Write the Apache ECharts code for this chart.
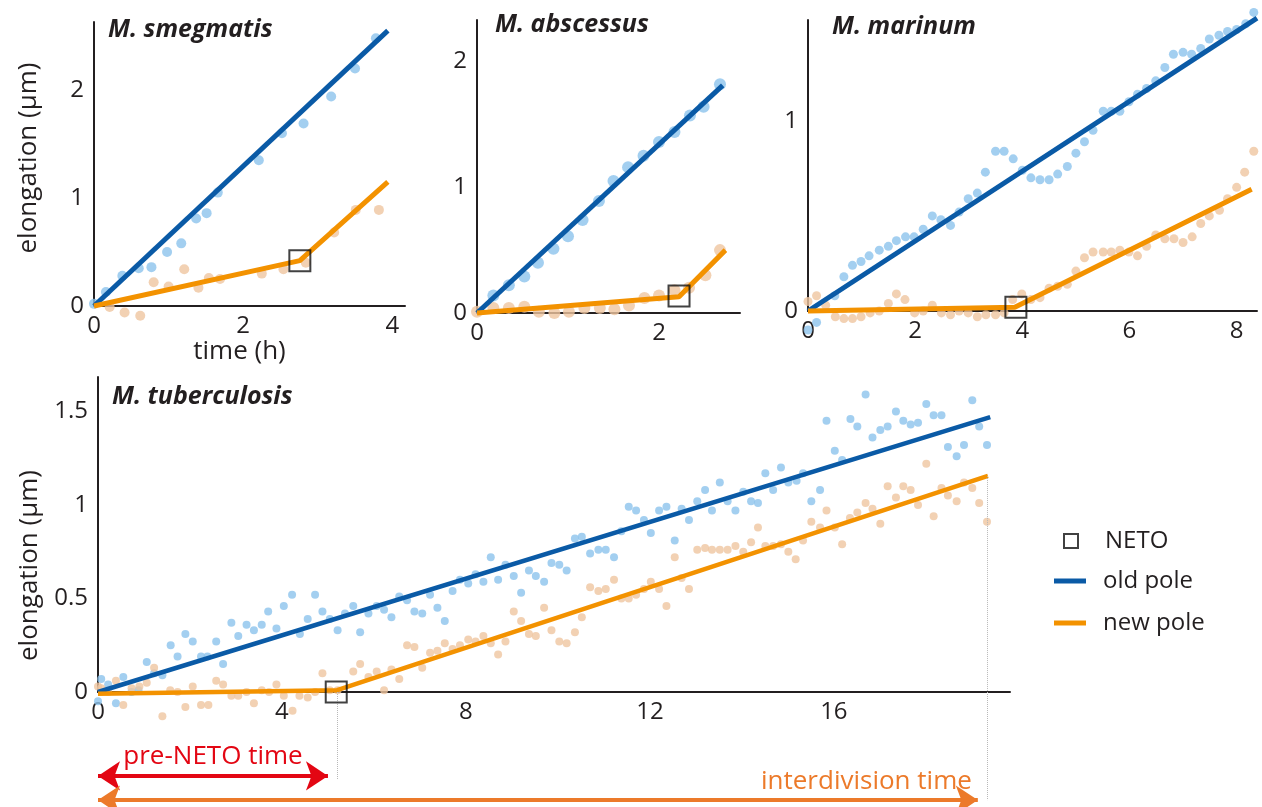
<!DOCTYPE html>
<html>
<head>
<meta charset="utf-8">
<title>NETO elongation</title>
<script src="https://cdn.jsdelivr.net/npm/echarts@6/dist/echarts.min.js"></script>
<style>
  html, body { margin: 0; padding: 0; background: #fff; }
  #chart { width: 1262px; height: 807px; }
</style>
</head>
<body>
<div id="chart"></div>
<script>
// ---- data: [time (h), elongation (um)] ----

// M. smegmatis
const smegOld = [[0, 0.02], [0.16, 0.13], [0.38, 0.28], [0.6, 0.35], [0.77, 0.36], [0.98, 0.5], [1.17, 0.58], [1.37, 0.81], [1.51, 0.86], [1.66, 1.05], [2.21, 1.35], [2.52, 1.6], [2.81, 1.69], [3.18, 1.94], [3.5, 2.2], [3.78, 2.48]]
const smegNew = [[0.21, -0.01], [0.41, -0.06], [0.62, -0.09], [0.8, 0.22], [1.0, 0.18], [1.21, 0.34], [1.4, 0.17], [1.54, 0.26], [1.69, 0.25], [2.25, 0.3], [2.54, 0.34], [2.84, 0.4], [3.22, 0.68], [3.51, 0.89], [3.82, 0.89]]
const smegOldFit = [[0, 0], [3.94, 2.55]]
const smegNewFit = [[0, 0], [2.76, 0.42], [3.94, 1.15]]
const smegNeto = [[2.76, 0.42]]

// M. abscessus
const absOld = [[0.18, 0.14], [0.35, 0.22], [0.52, 0.29], [0.67, 0.4], [0.84, 0.51], [1.0, 0.61], [1.16, 0.74], [1.34, 0.89], [1.5, 1.05], [1.66, 1.16], [1.83, 1.25], [2.0, 1.36], [2.17, 1.44], [2.34, 1.57], [2.49, 1.64], [2.67, 1.82]]
const absNew = [[0, 0.01], [0.18, 0.04], [0.35, 0.04], [0.52, 0.05], [0.68, 0.01], [0.85, 0], [1.01, 0.01], [1.18, 0.04], [1.35, 0.04], [1.51, 0.03], [1.67, 0.06], [1.84, 0.12], [2.0, 0.14], [2.17, 0.18], [2.33, 0.2], [2.51, 0.3], [2.67, 0.5]]
const absOldFit = [[0, 0], [2.7, 1.81]]
const absNewFit = [[0, 0], [2.22, 0.13], [2.73, 0.5]]
const absNeto = [[2.22, 0.135]]

// M. marinum
const marOld = [[0, -0.1], [0.16, -0.06], [0.5, 0.08], [0.67, 0.18], [0.83, 0.24], [0.99, 0.26], [1.14, 0.29], [1.33, 0.32], [1.5, 0.34], [1.65, 0.37], [1.82, 0.39], [1.98, 0.39], [2.15, 0.43], [2.32, 0.5], [2.48, 0.48], [2.66, 0.45], [2.82, 0.52], [2.99, 0.59], [3.16, 0.62], [3.31, 0.73], [3.5, 0.84], [3.66, 0.84], [3.83, 0.8], [4.0, 0.74], [4.16, 0.7], [4.33, 0.69], [4.5, 0.69], [4.66, 0.72], [4.84, 0.76], [5.0, 0.83], [5.16, 0.89], [5.32, 0.95], [5.51, 1.05], [5.66, 1.05], [5.82, 1.05], [5.99, 1.1], [6.15, 1.14], [6.32, 1.17], [6.49, 1.21], [6.66, 1.28], [6.82, 1.35], [7.0, 1.36], [7.16, 1.35], [7.33, 1.38], [7.49, 1.43], [7.67, 1.45], [7.83, 1.47], [8.0, 1.48], [8.17, 1.51], [8.32, 1.57]]
const marNew = [[0, 0.05], [0.16, 0.08], [0.33, 0.03], [0.51, -0.03], [0.67, -0.04], [0.83, -0.04], [0.99, -0.03], [1.16, -0.01], [1.33, 0], [1.5, 0.04], [1.65, 0.09], [1.81, 0.06], [1.99, -0.01], [2.15, 0], [2.32, 0.03], [2.49, -0.01], [2.66, -0.02], [2.82, 0], [2.99, -0.01], [3.16, -0.03], [3.32, -0.02], [3.5, -0.02], [3.66, -0.01], [3.82, 0.06], [3.99, 0.09], [4.16, 0.06], [4.33, 0.07], [4.5, 0.12], [4.66, 0.13], [4.84, 0.14], [5.0, 0.21], [5.16, 0.28], [5.32, 0.31], [5.51, 0.31], [5.66, 0.31], [5.82, 0.32], [5.99, 0.31], [6.15, 0.29], [6.32, 0.34], [6.49, 0.4], [6.66, 0.38], [6.83, 0.38], [7.0, 0.36], [7.17, 0.39], [7.33, 0.46], [7.49, 0.5], [7.68, 0.53], [7.83, 0.59], [8.0, 0.65], [8.15, 0.73], [8.32, 0.84]]
const marOldFit = [[0, 0], [8.38, 1.54]]
const marNewFit = [[0, 0], [3.86, 0.02], [8.28, 0.64]]
const marNeto = [[3.88, 0.02]]

// M. tuberculosis
const tbOld = [[0, -0.05], [0.07, 0.07], [0.22, 0.04], [0.39, -0.06], [0.55, 0.08], [0.73, 0], [0.88, 0.01], [1.06, 0.16], [1.22, 0.1], [1.4, 0.09], [1.58, 0.25], [1.73, 0.19], [1.9, 0.31], [2.06, 0.27], [2.24, 0.19], [2.38, 0.19], [2.57, 0.27], [2.72, 0.15], [2.9, 0.37], [3.05, 0.3], [3.23, 0.36], [3.39, 0.33], [3.56, 0.36], [3.7, 0.43], [3.88, 0.34], [4.04, 0.46], [4.22, 0.52], [4.39, 0.31], [4.56, 0.39], [4.72, 0.52], [4.88, 0.43], [5.04, 0.39], [5.21, 0.33], [5.37, 0.42], [5.55, 0.46], [5.7, 0.32], [5.88, 0.42], [6.06, 0.46], [6.22, 0.44], [6.38, 0.4], [6.55, 0.51], [6.72, 0.49], [6.88, 0.43], [7.05, 0.42], [7.22, 0.52], [7.38, 0.45], [7.54, 0.38], [7.71, 0.54], [7.87, 0.6], [8.05, 0.58], [8.21, 0.63], [8.38, 0.59], [8.54, 0.72], [8.7, 0.6], [8.86, 0.68], [9.04, 0.62], [9.2, 0.53], [9.37, 0.65], [9.52, 0.62], [9.7, 0.59], [9.86, 0.69], [10.03, 0.68], [10.19, 0.65], [10.37, 0.82], [10.52, 0.83], [10.7, 0.74], [10.88, 0.76], [11.04, 0.76], [11.22, 0.72], [11.38, 0.86], [11.54, 0.99], [11.7, 0.97], [11.87, 0.92], [12.02, 0.85], [12.2, 0.97], [12.36, 0.99], [12.54, 0.81], [12.69, 0.98], [12.85, 0.92], [13.03, 1.02], [13.2, 1.08], [13.35, 0.97], [13.52, 1.12], [13.69, 1.02], [13.86, 0.97], [14.03, 1.07], [14.2, 1.02], [14.35, 1.01], [14.51, 1.17], [14.68, 1.08], [14.85, 1.2], [15.01, 1.12], [15.19, 1.13], [15.33, 1.17], [15.51, 1.02], [15.7, 1.08], [15.84, 1.45], [16.02, 1.29], [16.18, 1.24], [16.36, 1.46], [16.51, 1.42], [16.69, 1.59], [16.84, 1.36], [17.01, 1.4], [17.17, 1.42], [17.35, 1.5], [17.51, 1.45], [17.67, 1.43], [17.83, 1.44], [18.01, 1.54], [18.17, 1.48], [18.34, 1.48], [18.48, 1.31], [18.67, 1.26], [18.83, 1.32], [19.01, 1.56], [19.16, 1.42], [19.33, 1.32]]
const tbNew = [[0, 0.03], [0.07, 0.02], [0.22, 0], [0.39, 0.06], [0.55, -0.07], [0.73, 0.02], [0.9, 0.03], [1.06, 0.05], [1.22, 0.13], [1.4, -0.13], [1.57, 0.01], [1.73, 0], [1.9, -0.08], [2.06, 0.03], [2.24, -0.07], [2.4, -0.07], [2.57, 0.06], [2.72, 0.04], [2.9, -0.02], [3.05, -0.02], [3.23, 0], [3.39, -0.06], [3.56, 0.01], [3.72, 0], [3.88, 0.04], [4.04, -0.02], [4.23, -0.1], [4.38, -0.02], [4.56, -0.03], [4.72, 0], [4.88, 0.1], [5.04, 0.01], [5.21, 0.01], [5.55, 0.11], [5.7, 0.15], [5.88, 0.08], [6.06, 0.11], [6.22, 0.01], [6.38, 0.12], [6.55, 0.07], [6.72, 0.25], [6.88, 0.24], [7.05, 0.13], [7.22, 0.21], [7.38, 0.22], [7.54, 0.26], [7.71, 0.23], [7.87, 0.25], [8.05, 0.28], [8.21, 0.27], [8.38, 0.3], [8.54, 0.26], [8.7, 0.2], [8.86, 0.27], [9.04, 0.43], [9.2, 0.38], [9.37, 0.31], [9.52, 0.3], [9.7, 0.45], [9.86, 0.33], [10.03, 0.27], [10.19, 0.26], [10.37, 0.32], [10.52, 0.4], [10.7, 0.56], [10.88, 0.54], [11.04, 0.55], [11.22, 0.6], [11.38, 0.5], [11.54, 0.5], [11.7, 0.52], [11.87, 0.55], [12.02, 0.59], [12.2, 0.55], [12.36, 0.46], [12.54, 0.72], [12.69, 0.61], [12.85, 0.55], [13.03, 0.76], [13.2, 0.77], [13.35, 0.76], [13.52, 0.76], [13.69, 0.76], [13.86, 0.78], [14.03, 0.75], [14.2, 0.8], [14.35, 0.88], [14.51, 0.78], [14.68, 0.78], [14.85, 0.79], [15.01, 0.75], [15.17, 0.71], [15.33, 0.81], [15.51, 0.91], [15.7, 0.88], [15.84, 0.97], [16.02, 0.88], [16.18, 0.79], [16.35, 0.93], [16.51, 0.96], [16.69, 1.01], [16.84, 0.98], [17.01, 0.9], [17.17, 1.1], [17.35, 1.04], [17.51, 1.1], [17.67, 1.08], [17.83, 1.0], [18.01, 1.22], [18.17, 0.94], [18.34, 1.09], [18.48, 1.05], [18.67, 1.02], [18.83, 1.12], [19.01, 1.09], [19.16, 1.01], [19.33, 0.91]]
const tbOldFit = [[0, 0], [19.4, 1.47]]
const tbNewFit = [[0, -0.01], [5.2, 0.01], [19.35, 1.155]]
const tbNeto = [[5.18, 0.0]]

// time spans drawn as arrows under the M. tuberculosis axis (h)
const netoTime = 5.2
const divisionTime = 19.33
const preNetoArrow = [0, 5.0]
const interdivisionArrow = [0, 19.13]

// axis ranges and tick steps for each panel
const panelTitles = ['M. smegmatis', 'M. abscessus', 'M. marinum', 'M. tuberculosis']
const xMaxes = [4.17, 2.89, 8.38, 19.83]
const xSteps = [2, 2, 2, 4]
const yMaxes = [2.63, 2.33, 1.53, 1.684]
const ySteps = [1, 1, 1, 0.5]

// ---- styling ----
const FONT = '"Open Sans", "Noto Sans", sans-serif'
const INK = '#231f20'
const OLD_LINE = '#0a5aa6'
const NEW_LINE = '#f39200'
const OLD_DOT = '#8cc3ec'
const NEW_DOT = '#efc5a0'

// panel boxes in px: left, top, width, height
const boxes = [
  [94, 22, 311, 284],
  [477, 20, 263, 293],
  [808, 20, 449, 291],
  [98, 377, 912, 315]
]

// hide the label of the extent max when it is not a real tick
function tickText (v, step) {
  const r = v / step
  return Math.abs(r - Math.round(r)) < 1e-6 ? String(+v.toFixed(2)) : ''
}

const grid = boxes.map(b => ({ left: b[0], top: b[1], width: b[2], height: b[3] }))
// strip under the M. tuberculosis axis for the time arrows
grid.push({ left: 98, top: 692, width: 912, height: 115 })

const xAxis = boxes.map((b, i) => ({
  type: 'value',
  gridIndex: i,
  min: 0,
  max: xMaxes[i],
  interval: xSteps[i],
  name: i === 0 ? 'time (h)' : '',
  nameLocation: 'middle',
  nameGap: 22,
  nameTextStyle: { fontSize: 26, color: INK, fontFamily: FONT, padding: [0, 20, 0, 0] },
  axisLine: { show: true, onZero: false, lineStyle: { color: INK, width: 2 } },
  axisTick: { show: false },
  splitLine: { show: false },
  axisLabel: { fontSize: 24, color: INK, fontFamily: FONT, margin: 8, formatter: v => tickText(v, xSteps[i]) }
}))
xAxis.push({ type: 'value', gridIndex: 4, min: 0, max: xMaxes[3], show: false })

const yAxis = boxes.map((b, i) => ({
  type: 'value',
  gridIndex: i,
  min: 0,
  max: yMaxes[i],
  interval: ySteps[i],
  name: (i === 0 || i === 3) ? 'elongation (μm)' : '',
  nameLocation: 'middle',
  nameGap: i === 0 ? 52 : 55,
  nameTextStyle: { fontSize: 26, color: INK, fontFamily: FONT, padding: i === 3 ? [0, 62, 0, 0] : [0, 0, 0, 12] },
  axisLine: { show: true, onZero: false, lineStyle: { color: INK, width: 2 } },
  axisTick: { show: false },
  splitLine: { show: false },
  axisLabel: { fontSize: 24, color: INK, fontFamily: FONT, margin: 10, formatter: v => tickText(v, ySteps[i]) }
}))
yAxis.push({ type: 'value', gridIndex: 4, min: 0, max: 1, show: false })

const titleTops = [17, 12, 14, 384]
const titleLefts = [108, 495, 832, 112]
const title = panelTitles.map((t, i) => ({
  text: t,
  left: titleLefts[i],
  top: titleTops[i],
  padding: 0,
  textStyle: { fontSize: 25, fontStyle: 'italic', fontWeight: 'bold', color: INK, fontFamily: FONT }
}))

// ---- series builders ----
function dots (g, data, color, size) {
  return { type: 'scatter', xAxisIndex: g, yAxisIndex: g, data: data, symbolSize: size, itemStyle: { color: color }, clip: false, silent: true, z: 1 }
}
function fit (g, name, data, color, width) {
  return { type: 'line', name: name, xAxisIndex: g, yAxisIndex: g, data: data, symbol: 'none', lineStyle: { color: color, width: width }, itemStyle: { color: color }, clip: false, silent: true, z: 3 }
}
function neto (g, data) {
  return { type: 'scatter', name: 'NETO', xAxisIndex: g, yAxisIndex: g, data: data, symbol: 'rect', symbolSize: 21, itemStyle: { color: 'rgba(0,0,0,0)', borderColor: '#111', borderWidth: 2 }, clip: false, silent: true, z: 5 }
}

// [old dots, new dots, old fit, new fit, NETO, dot size, line width]
const panels = [
  [smegOld, smegNew, smegOldFit, smegNewFit, smegNeto, 10, 5],
  [absOld, absNew, absOldFit, absNewFit, absNeto, 12, 5],
  [marOld, marNew, marOldFit, marNewFit, marNeto, 9, 5],
  [tbOld, tbNew, tbOldFit, tbNewFit, tbNeto, 8, 4.5]
]

const series = []
panels.forEach((p, g) => {
  series.push(dots(g, p[0], OLD_DOT, p[5]))
  series.push(dots(g, p[1], NEW_DOT, p[5]))
  series.push(fit(g, 'old pole', p[2], OLD_LINE, p[6]))
  series.push(fit(g, 'new pole', p[3], NEW_LINE, p[6]))
  series.push(neto(g, p[4]))
})

const dotted = { type: 'dotted', color: '#b8b8b8', width: 1 }

// dotted drop line at division time, from the end of the new pole fit down to the axis
series.push({
  type: 'line', xAxisIndex: 3, yAxisIndex: 3, data: [], silent: true,
  markLine: {
    silent: true, symbol: 'none', animation: false, label: { show: false },
    data: [[{ coord: [divisionTime, tbNewFit[2][1]], lineStyle: dotted }, { coord: [divisionTime, 0] }]]
  }
})

// arrows for pre-NETO time and interdivision time
series.push({
  type: 'line', xAxisIndex: 4, yAxisIndex: 4, data: [], silent: true,
  markLine: {
    silent: true, animation: false, symbol: 'none', label: { show: false },
    data: [
      [{ coord: [netoTime, 1], lineStyle: dotted }, { coord: [netoTime, 0.235] }],
      [{ coord: [divisionTime, 1], lineStyle: dotted }, { coord: [divisionTime, 0.06] }],
      [{
        coord: [preNetoArrow[0], 0.27],
        symbol: 'arrow', symbolSize: 22,
        lineStyle: { type: 'solid', color: '#e30613', width: 4 },
        label: { show: true, formatter: 'pre-NETO time', position: 'insideMiddleTop', distance: 6, color: '#e30613', fontSize: 26, fontFamily: FONT }
      }, { coord: [preNetoArrow[1], 0.27], symbol: 'arrow', symbolSize: 22 }],
      [{
        coord: [interdivisionArrow[0], 0.06],
        symbol: 'arrow', symbolSize: 22,
        lineStyle: { type: 'solid', color: '#ec7a2a', width: 4 },
        label: { show: true, formatter: 'interdivision time', position: 'insideEndTop', distance: 6, color: '#ec7a2a', fontSize: 26, fontFamily: FONT }
      }, { coord: [interdivisionArrow[1], 0.06], symbol: 'arrow', symbolSize: 22 }]
    ]
  }
})

const legend = [
  {
    data: ['NETO'], left: 1058, top: 524, itemWidth: 14, itemHeight: 14, selectedMode: false,
    textStyle: { fontSize: 24, color: INK, fontFamily: FONT, padding: [0, 0, 0, 22] }
  },
  {
    data: [{ name: 'old pole', icon: 'rect' }, { name: 'new pole', icon: 'rect' }],
    orient: 'vertical', left: 1049, top: 564, itemWidth: 32, itemHeight: 5, itemGap: 18,
    selectedMode: false,
    textStyle: { fontSize: 24, color: INK, fontFamily: FONT, padding: [0, 0, 0, 12] }
  }
]

const chart = echarts.init(document.getElementById('chart'))
chart.setOption({
  animation: false,
  backgroundColor: '#fff',
  textStyle: { fontFamily: FONT },
  title: title,
  legend: legend,
  grid: grid,
  xAxis: xAxis,
  yAxis: yAxis,
  series: series
})
</script>
</body>
</html>
